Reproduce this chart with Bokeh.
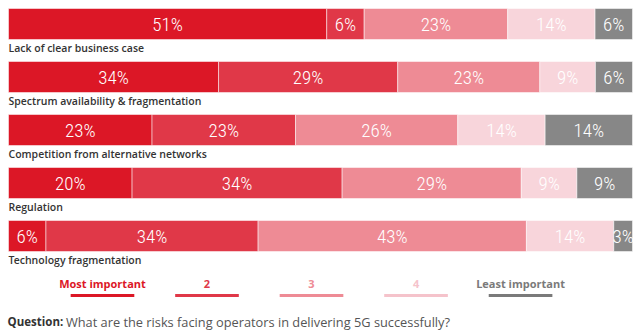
from bokeh.plotting import figure
from bokeh.models import Range1d, ColumnDataSource
from bokeh.embed import file_html
from bokeh.resources import INLINE
from bokeh.core.properties import value

categories = ["Lack of clear business case",
              "Spectrum availability & fragmentation",
              "Competition from alternative networks",
              "Regulation",
              "Technology fragmentation"]
levels = ["Most important", "2", "3", "4", "Least important"]
most = [51, 34, 23, 20, 6]
second = [6, 29, 23, 34, 34]
third = [23, 23, 26, 29, 43]
fourth = [14, 9, 14, 9, 14]
least = [6, 6, 14, 9, 3]
series = [most, second, third, fourth, least]
colors = ["#DC1726", "#E03848", "#EE8B95", "#F8D5DB", "#878787"]
legend_colors = ["#DC1726", "#E03848", "#EE8B95", "#F5C3CB", "#7A7A7A"]
question_label = "Question:"
question = "What are the risks facing operators in delivering 5G successfully?"

PX = 6.24      # pixels per percent
ROW = 53.0     # pixels per row
p = figure(width=640, height=331, output_backend="svg", toolbar_location=None,
           x_range=Range1d(-8 / PX, 100 + 8 / PX),
           y_range=Range1d((331 - 23.5) / ROW, -23.5 / ROW),
           min_border=0)
p.axis.visible = False
p.grid.visible = False
p.outline_line_color = None
p.background_fill_color = "white"

ys, lefts, rights, cols, labels, mids = [], [], [], [], [], []
for i in range(len(categories)):
    vals = [s[i] for s in series]
    total = float(sum(vals))
    acc = 0.0
    for k, v in enumerate(vals):
        l = acc / total * 100
        acc += v
        r = acc / total * 100
        ys.append(i); lefts.append(l); rights.append(r)
        cols.append(colors[k]); labels.append(f"{v}%"); mids.append((l + r) / 2)

src = ColumnDataSource(dict(y=ys, left=lefts, right=rights, color=cols, label=labels, mid=mids))
bar_h = 31 / ROW
p.hbar(y="y", left="left", right="right", height=bar_h, fill_color="color",
       line_color="white", line_alpha=0.5, line_width=1, source=src)
p.text(x="mid", y="y", text="label", source=src, text_color="white",
       text_font=value("'Roboto Condensed Light', 'Lato Light', 'Roboto Light', 'Lato'"),
       text_font_size="19px",
       text_align="center", text_baseline="middle")

cat_src = ColumnDataSource(dict(x=[0] * len(categories),
                                y=[i + 23.5 / ROW for i in range(len(categories))],
                                t=categories))
p.text(x="x", y="y", text="t", source=cat_src, text_color="#333333",
       text_font=value("'Open Sans SemiBold', 'Open Sans'"), text_font_size="10.5px",
       text_font_style="bold",
       text_align="left", text_baseline="middle")

# legend
n = len(levels)
lx = [15.06 + k * 16.75 for k in range(n)]
leg_y = (283 - 23.5) / ROW
line_y = (295 - 23.5) / ROW
leg_src = ColumnDataSource(dict(x=lx, y=[leg_y] * n, t=levels, c=legend_colors,
                                x0=[x - 5.1 for x in lx], x1=[x + 5.1 for x in lx],
                                ly=[line_y] * n))
p.text(x="x", y="y", text="t", text_color="c", source=leg_src,
       text_font=value("Open Sans"), text_font_size="11px", text_font_style="bold",
       text_align="center", text_baseline="middle")
p.segment(x0="x0", y0="ly", x1="x1", y1="ly", line_color="c", line_width=3,
          source=leg_src)

q_y = (321 - 23.5) / ROW
p.text(x=[-0.15], y=[q_y], text=[question_label], text_color="#333333",
       text_font=value("Open Sans"), text_font_size="11.5px", text_font_style="bold",
       text_align="left", text_baseline="middle")
p.text(x=[9.2], y=[q_y], text=[question], text_color="#555555",
       text_font=value("Open Sans"), text_font_size="12.8px",
       text_align="left", text_baseline="middle")

open("out.html", "w").write(file_html(p, INLINE))
